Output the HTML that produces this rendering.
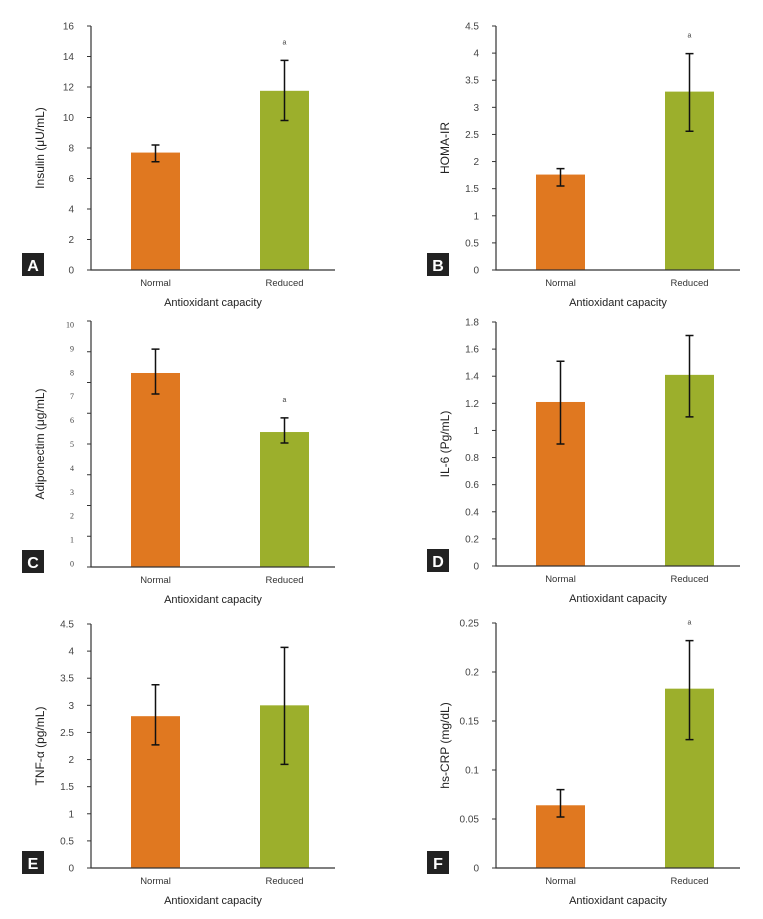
<!DOCTYPE html>
<html><head><meta charset="utf-8"><style>
html,body{margin:0;padding:0;background:#fff;}
svg{display:block;font-family:"Liberation Sans",sans-serif;}
</style></head><body>
<svg id="fig" width="763" height="919" viewBox="0 0 763 919"></svg>
<script>
const categories = ["Normal","Reduced"];
const insulinVals = [7.7, 11.75];
const insulinErrHi = [8.2, 13.75];
const insulinErrLo = [7.1, 9.8];
const homaVals = [1.76, 3.29];
const homaErrHi = [1.87, 3.99];
const homaErrLo = [1.55, 2.56];
const adipoVals = [7.95, 5.48];
const adipoErrHi = [8.95, 6.07];
const adipoErrLo = [7.07, 5.02];
const il6Vals = [1.21, 1.41];
const il6ErrHi = [1.51, 1.70];
const il6ErrLo = [0.9, 1.1];
const tnfVals = [2.8, 3.0];
const tnfErrHi = [3.38, 4.07];
const tnfErrLo = [2.27, 1.91];
const crpVals = [0.064, 0.183];
const crpErrHi = [0.08, 0.232];
const crpErrLo = [0.052, 0.131];
const insulinTicks = ["0","2","4","6","8","10","12","14","16"];
const homaTicks = ["0","0.5","1","1.5","2","2.5","3","3.5","4","4.5"];
const adipoTicks = ["0","1","2","3","4","5","6","7","8","9","10"];
const il6Ticks = ["0","0.2","0.4","0.6","0.8","1","1.2","1.4","1.6","1.8"];
const tnfTicks = ["0","0.5","1","1.5","2","2.5","3","3.5","4","4.5"];
const crpTicks = ["0","0.05","0.1","0.15","0.2","0.25"];
const insulinSig = [false,true];
const homaSig = [false,true];
const adipoSig = [false,true];
const il6Sig = [false,false];
const tnfSig = [false,false];
const crpSig = [false,true];

const NS="http://www.w3.org/2000/svg";
const svg=document.getElementById('fig');
function mk(tag,attrs,parent){const e=document.createElementNS(NS,tag);for(const k in attrs)e.setAttribute(k,attrs[k]);(parent||svg).appendChild(e);return e;}
const colors=["#e07820","#9caf2c"];

function panel(p){
  const g=mk('g',{});
  
  
  const ax=p.ax, top=p.top, bot=p.bot, right=ax+244;
  const max=parseFloat(p.ticks[p.ticks.length-1]);
  const vTop=p.vTop!==undefined?p.vTop:top, vBot=p.vBot!==undefined?p.vBot:bot;
  const y=v=>vBot-(v/max)*(vBot-vTop);
  // ticks
  const nT=p.tickCount||p.ticks.length;
  for(let i=0;i<nT;i++){
    const ty=bot-i*(bot-top)/(nT-1);
    const t=mk('line',{x1:ax-4,x2:ax,y1:ty,y2:ty,stroke:'#333','stroke-width':1},g);
    
    
  }
  p.ticks.forEach((lab,i)=>{
    const ty=y(parseFloat(lab));
    const t=mk('text',{x:ax-17,y:ty+3.5,'text-anchor':'end','font-size':p.small?8:10,fill:'#444','font-family':p.small?'"Liberation Serif",serif':'"Liberation Sans",sans-serif'},g);
    t.textContent=lab;
    
    
  });
  // bars
  categories.forEach((c,i)=>{
    const bx=ax+40+i*129, bw=49;
    const r=mk('rect',{x:bx,y:y(p.vals[i]),width:bw,height:bot-y(p.vals[i]),fill:colors[i]},g);
    
    
    const cx=bx+bw/2, yh=y(p.hi[i]), yl=y(p.lo[i]);
    const eb=mk('path',{d:`M${cx},${yh}V${yl}M${cx-4},${yh}H${cx+4}M${cx-4},${yl}H${cx+4}`,stroke:'#111','stroke-width':1.5,fill:'none'},g);
    
    
    if(p.sig[i]){
      const a=mk('text',{x:cx,y:yh-16,'text-anchor':'middle','font-size':7,fill:'#444'},g);
      a.textContent='a';
      
      
    }
    const cl=mk('text',{x:cx,y:bot+16,'text-anchor':'middle','font-size':9.5,fill:'#333'},g);
    cl.textContent=c;
    
    
  });
  // axes
  const axl=mk('path',{d:`M${ax},${top}V${bot}H${right}`,stroke:'#333','stroke-width':1.2,fill:'none'},g);
  
  
  const xt=mk('text',{x:ax+122,y:bot+36,'text-anchor':'middle','font-size':11,fill:'#222'},g);
  xt.textContent='Antioxidant capacity';
  
  
  const yx=ax-47, yc=(top+bot)/2;
  const yt=mk('text',{x:yx,y:yc,'text-anchor':'middle','font-size':12,fill:'#222',transform:`rotate(-90 ${yx} ${yc})`},g);
  yt.textContent=p.ytitle;
  
  
  const bx=ax-69, by=bot-17;
  const box=mk('rect',{x:bx,y:by,width:22,height:23,fill:'#222'},g);
  
  
  const lt=mk('text',{x:bx+11,y:by+18,'text-anchor':'middle','font-size':16,'font-weight':'bold',fill:'#fff'},g);
  lt.textContent=p.letter;
  
  
}
panel({letter:'A',ax:91,top:26,bot:270,ticks:insulinTicks,vals:insulinVals,hi:insulinErrHi,lo:insulinErrLo,sig:insulinSig,ytitle:'Insulin (μU/mL)'});
panel({letter:'B',ax:496,top:26,bot:270,ticks:homaTicks,vals:homaVals,hi:homaErrHi,lo:homaErrLo,sig:homaSig,ytitle:'HOMA-IR'});
panel({letter:'C',ax:91,top:321,bot:567,vTop:324,vBot:563,tickCount:9,small:true,ticks:adipoTicks,vals:adipoVals,hi:adipoErrHi,lo:adipoErrLo,sig:adipoSig,ytitle:'Adiponectim (μg/mL)'});
panel({letter:'D',ax:496,top:322,bot:566,ticks:il6Ticks,vals:il6Vals,hi:il6ErrHi,lo:il6ErrLo,sig:il6Sig,ytitle:'IL-6 (Pg/mL)'});
panel({letter:'E',ax:91,top:624,bot:868,ticks:tnfTicks,vals:tnfVals,hi:tnfErrHi,lo:tnfErrLo,sig:tnfSig,ytitle:'TNF-α (pg/mL)'});
panel({letter:'F',ax:496,top:623,bot:868,ticks:crpTicks,vals:crpVals,hi:crpErrHi,lo:crpErrLo,sig:crpSig,ytitle:'hs-CRP (mg/dL)'});
</script>
</body></html>
